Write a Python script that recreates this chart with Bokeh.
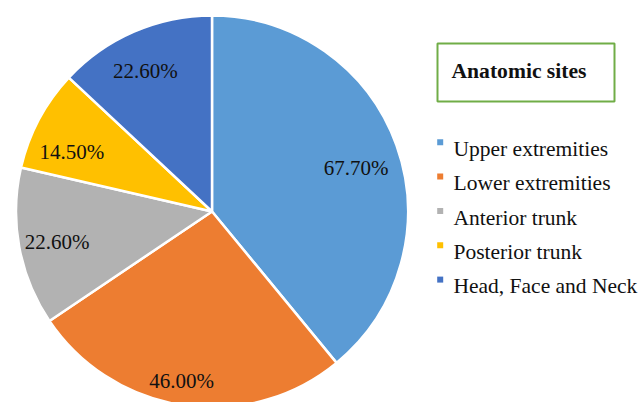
import math
from bokeh.plotting import figure
from bokeh.models import Range1d, ColumnDataSource
from bokeh.embed import file_html
from bokeh.resources import INLINE
from bokeh.core.properties import value

# ---- data ----
categories = ["Upper extremities", "Lower extremities", "Anterior trunk",
              "Posterior trunk", "Head, Face and Neck"]
percent_values = [67.70, 46.00, 22.60, 14.50, 22.60]
percent_labels = ["67.70%", "46.00%", "22.60%", "14.50%", "22.60%"]
colors = ["#5B9BD5", "#ED7D31", "#B2B2B2", "#FFC000", "#4472C4"]
legend_title = "Anatomic sites"

# ---- layout (plot pixels, 1 data unit = 1 px) ----
W, H = 639, 402
CX, CY = 211.5, 211.0
R = 196.0
FONT = "'Liberation Serif', 'Times New Roman', serif"
# small label nudges (px, screen: +x right, +y down) from the 0.8R mid-angle point
label_nudge = [(-3.6, 9.3), (-7.7, 14.0), (-0.8, 2.1), (-1.8, 13.9), (-4.2, 3.8)]


def px(x):
    return x - CX


def py(y):
    return CY - y


p = figure(width=W, height=H, output_backend="svg", toolbar_location=None,
           x_range=Range1d(-CX, W - CX), y_range=Range1d(-(H - CY), CY),
           x_axis_type=None, y_axis_type=None, min_border=0)
p.grid.visible = False
p.outline_line_color = None
p.background_fill_color = "white"
p.border_fill_color = "white"

total = sum(percent_values)
starts, ends, mids = [], [], []
acc = 0.0
for v in percent_values:
    a0 = acc / total * 2 * math.pi
    acc += v
    a1 = acc / total * 2 * math.pi
    starts.append(math.pi / 2 - a0)
    ends.append(math.pi / 2 - a1)
    mids.append(math.pi / 2 - (a0 + a1) / 2)

src = ColumnDataSource(dict(start=starts, end=ends, color=colors,
                            label=percent_labels))
p.wedge(x=0, y=0, radius=R, start_angle="start", end_angle="end",
        direction="clock", fill_color="color", line_color="white",
        line_width=2.5, source=src)

lr = 0.80 * R
lsrc = ColumnDataSource(dict(
    x=[lr * math.cos(m) + n[0] for m, n in zip(mids, label_nudge)],
    y=[lr * math.sin(m) - n[1] for m, n in zip(mids, label_nudge)],
    t=percent_labels))
p.text(x="x", y="y", text="t", source=lsrc, text_align="center",
       text_baseline="alphabetic", text_font=value(FONT),
       text_font_size="21px", text_color="#111111")

# ---- legend (drawn manually) ----
p.quad(left=px(437), right=px(614), top=py(43), bottom=py(101),
       fill_color=None, line_color="#70AD47", line_width=2)
p.text(x=[px(451)], y=[py(70.7)], text=[legend_title], text_align="left",
       text_baseline="alphabetic", text_font=value(FONT),
       text_font_size="21.6px", text_font_style="bold", text_color="#111111")

pitch = 34.35
base0 = 148.3
leg = ColumnDataSource(dict(
    tx=[px(453)] * len(categories),
    ty=[py(base0 + i * pitch) for i in range(len(categories))],
    sx=[px(439.7)] * len(categories),
    sy=[py(base0 + i * pitch - 6.6) for i in range(len(categories))],
    name=categories, color=colors))
p.scatter(x="sx", y="sy", marker="square", size=6, fill_color="color",
          line_color=None, source=leg)
p.text(x="tx", y="ty", text="name", source=leg, text_align="left",
       text_baseline="alphabetic", text_font=value(FONT),
       text_font_size="21.5px", text_color="#111111")

open("out.html", "w").write(file_html(p, INLINE))
